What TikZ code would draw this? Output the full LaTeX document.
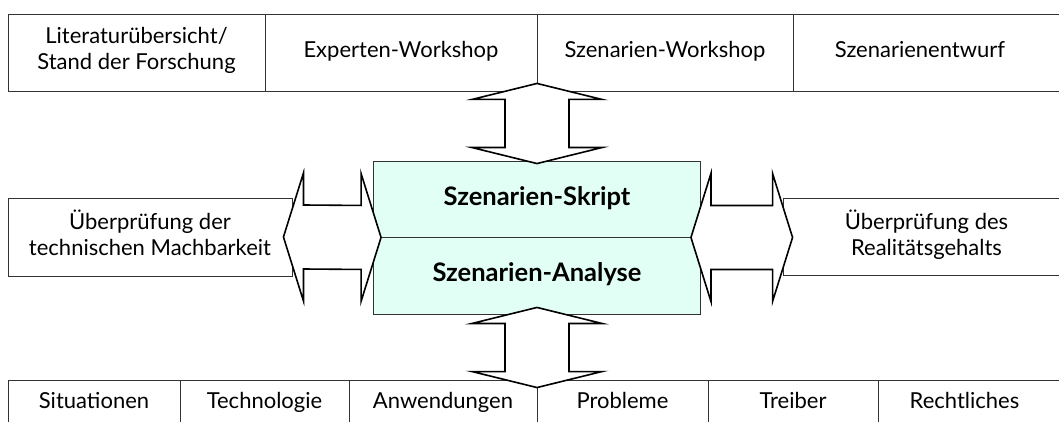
\documentclass[tikz,border=0pt]{standalone}
\usepackage{fontspec}
\setmainfont{Lato}
\usetikzlibrary{calc}
\definecolor{mint}{RGB}{226,255,246}
\tikzset{
	zelle/.style={draw=black!80, line width=0.9pt, inner sep=0pt, align=center,
		font=\fontsize{22}{26}\selectfont,
		execute at begin node=\strut, execute at end node=\strut},
	kern/.style={zelle, fill=mint, minimum width=327pt, font=\fontsize{25.5}{30}\selectfont\bfseries},
	pfeil/.style={draw=black, fill=white, line width=1.6pt, line join=miter},
}
% Doppelpfeil senkrecht: obere Spitze, untere Spitze
\newcommand{\vertpfeil}[2]{%
	\draw[pfeil] (#1) -- ++(65,16) -- ++(-33,0) -- ($(#2)+(32,-16)$) -- ++(33,0)
	-- (#2) -- ++(-65,-16) -- ++(33,0) -- ($(#1)+(-32,16)$) -- ++(-33,0) -- cycle;}
% Doppelpfeil waagrecht: linke Spitze, rechte Spitze
\newcommand{\horzpfeil}[2]{%
	\draw[pfeil] (#1) -- ++(20,-64) -- ++(0,32) -- ($(#2)+(-20,-32)$) -- ++(0,-32)
	-- (#2) -- ++(-20,64) -- ++(0,-32) -- ($(#1)+(20,32)$) -- ++(0,32) -- cycle;}
\begin{document}
\begin{tikzpicture}[x=1pt,y=-1pt]
	\useasboundingbox (0,0) rectangle (1059,422);
	% obere Reihe
	\foreach \name/\xa/\xb/\txt in
	{lit/8/265/{Literaturübersicht/\\Stand der Forschung},
	 expert/265/537/{Experten-Workshop},
	 szws/537/793/{Szenarien-Workshop},
	 entwurf/793/1070/{Szenarienentwurf\hspace*{23pt}}}
	{
		\node[zelle, minimum width={(\xb-\xa)*1pt}, minimum height=77pt]
		(\name) at ({(\xa+\xb)/2},52.5) {\txt};
	}
	% mittlere Reihe
	\node[zelle, minimum width=284pt, minimum height=78pt] (machbar) at (150,237)
	{Überprüfung der\\technischen Machbarkeit};
	\node[zelle, minimum width=287pt, minimum height=77pt] (realitaet) at (926.5,236.5)
	{Überprüfung des\\Realitätsgehalts};
	\node[kern, minimum height=76pt] (skript) at (537,199) {Szenarien-Skript};
	\node[kern, minimum height=77pt] (analyse) at (537,275.5) {Szenarien-Analyse};
	% untere Reihe
	\foreach \name/\xa/\xb/\txt in
	{situ/8/180/Situationen, techno/180/349/Technologie, anwend/349/537/Anwendungen,
	 probl/537/708/Probleme, treiber/708/878/Treiber,
	 recht/878/1070/{Rechtliches\hspace*{19pt}}}
	{
		\node[zelle, minimum width={(\xb-\xa)*1pt}, minimum height=46pt]
		(\name) at ({(\xa+\xb)/2},403) {\txt};
	}
	% Pfeile
	\coordinate (o1) at ([yshift=8pt]skript.north |- expert.south);
	\coordinate (o2) at ([yshift=-3pt]skript.north);
	\coordinate (u1) at ([yshift=7pt]analyse.south);
	\coordinate (u2) at ([yshift=-8pt]analyse.south |- probl.north);
	\coordinate (l1) at ([xshift=-9pt]machbar.east);
	\coordinate (l2) at ([xshift=8pt]skript.south west);
	\coordinate (r1) at ([xshift=-10pt]skript.south east);
	\coordinate (r2) at ([xshift=10pt]r1 -| realitaet.west);
	\vertpfeil{o1}{o2}
	\vertpfeil{u1}{u2}
	\horzpfeil{l1}{l2}
	\horzpfeil{r1}{r2}
\end{tikzpicture}
\end{document}
